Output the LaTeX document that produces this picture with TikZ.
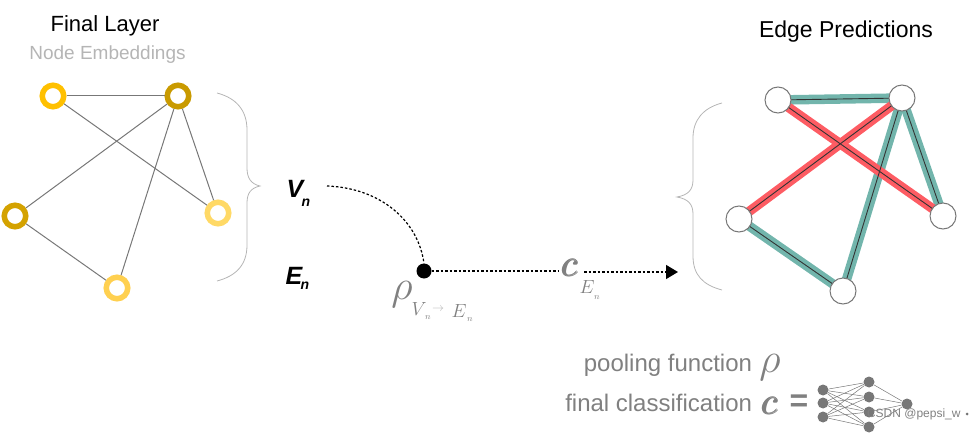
\RequirePackage{fix-cm}
\documentclass[tikz,border=0pt]{standalone}
\usepackage{amsmath}
\usepackage{fontspec}
\setmainfont{Liberation Sans}
\usetikzlibrary{arrows.meta}
\definecolor{tealedge}{HTML}{72B5AC}
\definecolor{rededge}{HTML}{FD5C63}
\definecolor{txtgray}{HTML}{808080}
\definecolor{lightgray2}{HTML}{B5B5B5}
\definecolor{edgegray}{HTML}{777777}
\definecolor{ra1}{HTML}{FFC000}
\definecolor{rb1}{HTML}{C99A00}
\definecolor{rc1}{HTML}{D4A200}
\definecolor{rd1}{HTML}{FFD966}
\definecolor{re1}{HTML}{FFD050}
\tikzset{
  x=1pt,y=-1pt,
  ring/.style={circle,draw=#1,line width=5.5pt,fill=white,minimum size=21.5pt,inner sep=0pt},
  plain/.style={circle,draw=edgegray,line width=1pt,fill=white,minimum size=26pt,inner sep=0pt},
  netnode/.style={circle,fill=edgegray,minimum size=11pt,inner sep=0pt},
  gedge/.style={draw=edgegray,line width=1pt},
  netedge/.style={draw=edgegray,line width=.5pt},
  dk/.style={draw=black!80,line width=.9pt},
  tl/.style={draw=tealedge,line width=9.5pt},
  rd/.style={draw=rededge,line width=9.5pt},
  brace/.style={draw=lightgray2,line width=.8pt},
  dotline/.style={draw=black,line width=1.2pt,dash pattern=on 2.5pt off 2pt},
  lab/.style={inner sep=0pt,outer sep=0pt},
  sub/.style={lab,text=txtgray,font=\fontsize{24}{28}\selectfont,anchor=east},
  bigv/.style={lab,font=\fontsize{25}{28}\selectfont\bfseries\itshape},
  smalln/.style={lab,font=\fontsize{14}{16}\selectfont\bfseries\itshape},
}
\begin{document}
\begin{tikzpicture}
\useasboundingbox (0,0) rectangle (977,433);
% texts
\node[lab,font=\fontsize{22}{26}\selectfont] (t1) at (105,26) {Final Layer};
\node[lab,text=lightgray2,font=\fontsize{19}{22}\selectfont] (t2) at (107.5,55) {Node Embeddings};
\node[lab,font=\fontsize{23}{26}\selectfont] (t3) at (846,32) {Edge Predictions};
% left graph
\node[ring=ra1] (a) at (53,96) {};
\node[ring=rb1] (b) at (178,96) {};
\node[ring=rc1] (c) at (15,216) {};
\node[ring=rd1] (d) at (218,213) {};
\node[ring=re1] (e) at (117,288) {};
\draw[gedge] (a)--(b);
\draw[gedge] (a)--(d);
\draw[gedge] (b)--(c);
\draw[gedge] (b)--(d);
\draw[gedge] (b)--(e);
\draw[gedge] (c)--(e);
% braces
\draw[brace] (217,93) .. controls (236,98) and (247,110) .. (247,130) -- (247,168) .. controls (247,178) and (251,184) .. (260,186) .. controls (251,188) and (247,193) .. (247,203) -- (247,245) .. controls (247,265) and (236,276) .. (217,281);
\draw[brace] (722,103) .. controls (703,108) and (693,120) .. (693,138) -- (693,180) .. controls (693,190) and (688,195) .. (677,197) .. controls (688,199) and (693,204) .. (693,214) -- (693,256) .. controls (693,275) and (703,285) .. (722,290);
% right graph
\coordinate (ra) at (778,100);
\coordinate (rb) at (902,98);
\coordinate (rc) at (739,219);
\coordinate (rd) at (943,216);
\coordinate (re) at (843,291);
\draw[tl] (ra)--(rb);
\draw[tl] (rb)--(rd);
\draw[tl] (rb)--(re);
\draw[tl] (rc)--(re);
\draw[rd] (ra)--(rd);
\draw[rd] (rb)--(rc);
\draw[dk] (ra)--(rb);
\draw[dk] (rb)--(rd);
\draw[dk] (rb)--(re);
\draw[dk] (rc)--(re);
\draw[dk] (ra)--(rd);
\draw[dk] (rb)--(rc);
\node[plain] (na) at (ra) {};
\node[plain] (nb) at (rb) {};
\node[plain] (nc) at (rc) {};
\node[plain] (nd) at (rd) {};
\node[plain] (ne) at (re) {};
% middle
\node[bigv] (vn) at (295,189) {V};
\node[smalln] (vns) at (306,203) {n};
\node[bigv] (en) at (294,276) {E};
\node[smalln] (ens) at (305,286) {n};
\node[circle,fill=black,minimum size=15pt,inner sep=0pt] (rho) at (424,271) {};
\coordinate (vstart) at (327,186);
\node[lab,text=txtgray,font=\fontsize{38}{44}\selectfont] (cc) at (570,268) {$\pmb{c}$};
\coordinate (arrowend) at (678,272);
\draw[dotline] (vstart) .. controls (380,188) and (418,220) .. (rho.north);
\draw[dotline] (rho.east) -- (558,271);
\draw[dotline,-{Triangle[length=12pt,width=14pt,fill=black]}] (584,272) -- (arrowend);
\node[lab,text=txtgray,font=\fontsize{42}{46}\selectfont] (rholab) at (402,295) {$\rho$};
\node[lab,text=txtgray,font=\fontsize{19}{22}\selectfont] (s1) at (419,309) {$V$};
\node[lab,text=txtgray,font=\fontsize{9}{10}\selectfont] (s2) at (428,318) {$n$};
\node[lab,text=lightgray2,font=\fontsize{12}{14}\selectfont] (s3) at (438,309) {$\rightarrow$};
\node[lab,text=txtgray,font=\fontsize{19}{22}\selectfont] (s4) at (459,311) {$E$};
\node[lab,text=txtgray,font=\fontsize{9}{10}\selectfont] (s5) at (470,320) {$n$};
\node[lab,text=txtgray,font=\fontsize{19}{22}\selectfont] (s6) at (587,287) {$E$};
\node[lab,text=txtgray,font=\fontsize{9}{10}\selectfont] (s7) at (597,298) {$n$};
% legend
\node[sub] (p1) at (752,365) {pooling function};
\node[sub] (p2) at (752,403) {final classification};
\node[lab,text=txtgray,font=\fontsize{42}{46}\selectfont] (p3) at (770,368) {$\rho$};
\node[lab,text=txtgray,font=\fontsize{38}{44}\selectfont] (p4) at (770,406) {$\pmb{c}$};
\node[lab,text=txtgray,font=\fontsize{32}{36}\selectfont\bfseries] (p5) at (799,403) {=};
% network
\node[netnode] (i1) at (823,390) {};
\node[netnode] (i2) at (823,403) {};
\node[netnode] (i3) at (823,417) {};
\node[netnode] (h1) at (869,382) {};
\node[netnode] (h2) at (869,397) {};
\node[netnode] (h3) at (869,412) {};
\node[netnode] (h4) at (869,427) {};
\node[netnode] (o1) at (907,404) {};
\foreach \s in {i1,i2,i3}{\foreach \t in {h1,h2,h3,h4}{\draw[netedge] (\s)--(\t);}}
\foreach \t in {h1,h2,h3,h4}{\draw[netedge] (\t)--(o1);}
% watermark
\node[lab,text=black!50,font=\fontsize{12}{14}\selectfont,anchor=west] (wm) at (867,414) {CSDN @pepsi\_w};
\node[circle,fill=black!55,minimum size=3pt,inner sep=0pt] (wd) at (967,414) {};
\end{tikzpicture}
\end{document}
